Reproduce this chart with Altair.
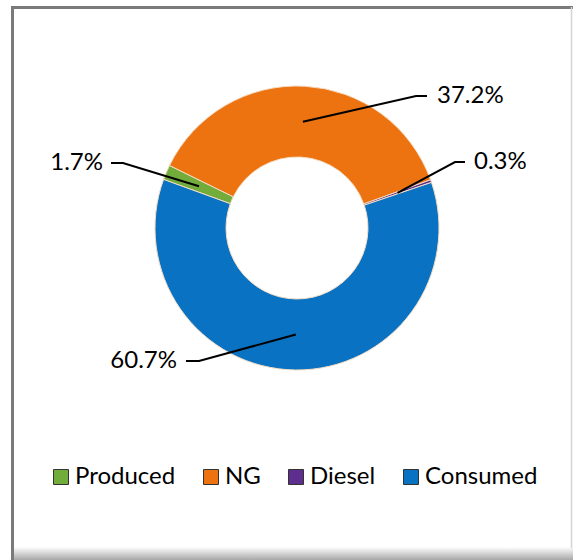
import math
import altair as alt
import pandas as pd

# ---- data ----
categories = ["Produced", "NG", "Diesel", "Consumed"]
shares = [1.7, 37.2, 0.3, 60.7]
labels = ["1.7%", "37.2%", "0.3%", "60.7%"]
colors = ["#72AD3C", "#EC730F", "#5E2E8E", "#0A72C2"]

# ---- layout (pixels) ----
W, H = 573, 560
CX, CY = 297, 228
R_OUT, R_IN = 142, 71
START_DEG = -70.0
FONT = "Lato"
FS = 24
# label anchor: (text x, text y, align, elbow x, line start x)
label_layout = {
    "Produced": (103, 163, "right", 123, 111),
    "NG": (437, 96, "left", 416, 427),
    "Diesel": (474, 162, "left", 455, 465),
    "Consumed": (177, 361, "right", 199, 186),
}

start = math.radians(START_DEG)
df = pd.DataFrame({"cat": categories, "share": shares, "label": labels,
                   "idx": list(range(len(categories)))})

# leader line points derived from the slice mid angles
total = sum(shares)
rows, txt = [], []
cum = 0.0
for c, s, l in zip(categories, shares, labels):
    mid = start + 2 * math.pi * (cum + s / 2) / total
    cum += s
    rm = (R_OUT + R_IN) / 2
    px, py = CX + rm * math.sin(mid), CY - rm * math.cos(mid)
    tx, ty, al, ex, sx = label_layout[c]
    rows += [{"cat": c, "o": 0, "x": sx, "y": ty},
             {"cat": c, "o": 1, "x": ex, "y": ty},
             {"cat": c, "o": 2, "x": px, "y": py}]
    txt.append({"cat": c, "label": l, "x": tx, "y": ty, "align": al})
lines_df = pd.DataFrame(rows)
txt_df = pd.DataFrame(txt)

xs = alt.Scale(domain=[0, W], range=[0, W])
ys = alt.Scale(domain=[0, H], range=[0, H])

color_scale = alt.Scale(domain=categories, range=colors)

arc = alt.Chart(df).mark_arc(
    outerRadius=R_OUT, innerRadius=R_IN, stroke="#f3dcc4", strokeWidth=1.0
).encode(
    theta=alt.Theta("share:Q", stack=True,
                    scale=alt.Scale(range=[start, start + 2 * math.pi])),
    order=alt.Order("idx:Q"),
    color=alt.Color("cat:N", scale=color_scale, sort=categories,
                    legend=alt.Legend(
                        title=None, orient="none", legendX=49, legendY=465,
                        direction="horizontal", symbolType="square",
                        symbolSize=225, symbolStrokeColor="#333333",
                        symbolStrokeWidth=1, labelFont=FONT, labelFontSize=FS,
                        labelColor="#000000", labelOffset=2, columnPadding=23,
                        labelLimit=300)),
    x=alt.value(CX), y=alt.value(CY),
)

lines = alt.Chart(lines_df).mark_line(color="#000000", strokeWidth=2).encode(
    x=alt.X("x:Q", scale=xs, axis=None),
    y=alt.Y("y:Q", scale=ys, axis=None),
    detail="cat:N",
    order="o:Q",
)

def text_layer(align):
    d = txt_df[txt_df["align"] == align]
    return alt.Chart(d).mark_text(
        align=align, baseline="middle", font=FONT, fontSize=FS, color="#000000"
    ).encode(
        x=alt.X("x:Q", scale=xs, axis=None),
        y=alt.Y("y:Q", scale=ys, axis=None),
        text="label:N",
    )

frame_df = pd.DataFrame({"k": [0]})
left_rule = alt.Chart(frame_df).mark_rule(color="#7a7a7a", strokeWidth=3).encode(
    x=alt.value(12.5), y=alt.value(6), y2=alt.value(H))
top_rule = alt.Chart(frame_df).mark_rule(color="#7a7a7a", strokeWidth=3).encode(
    x=alt.value(11), x2=alt.value(W), y=alt.value(7.5))
right_rule = alt.Chart(frame_df).mark_rule(color="#d4d4d4", strokeWidth=1.5).encode(
    x=alt.value(571.5), y=alt.value(7), y2=alt.value(548))
bottom = alt.Chart(frame_df).mark_rect(
    color=alt.Gradient(gradient="linear",
                       stops=[alt.GradientStop(color="#ffffff", offset=0),
                              alt.GradientStop(color="#a8a8a8", offset=1)],
                       x1=0, x2=0, y1=0, y2=1)
).encode(x=alt.value(14), x2=alt.value(W), y=alt.value(547), y2=alt.value(H))

chart = alt.layer(
    bottom, left_rule, top_rule, right_rule, arc, lines,
    text_layer("left"), text_layer("right")
).properties(
    width=W, height=H, autosize=alt.AutoSizeParams(type="none"), padding=0,
    background="#ffffff"
).configure_view(strokeWidth=0)

chart.save("out.html", embed_options={"renderer": "svg", "actions": False})
